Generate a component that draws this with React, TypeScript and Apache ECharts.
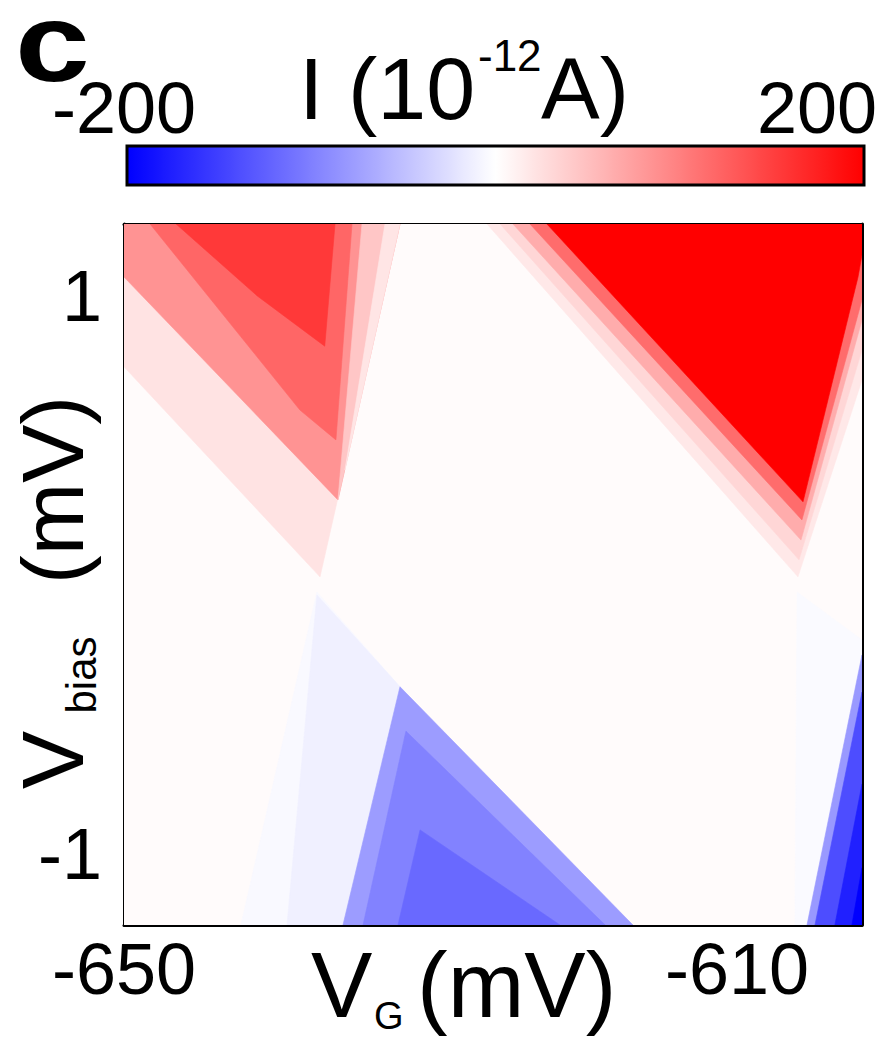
import React, { useEffect, useRef } from "react";
import * as echarts from "echarts";

const FONT = "'Liberation Sans', Arial, Helvetica, sans-serif";

// ---- axes (mV) ----
const vgRange = [-650, -601.84];
const vbRange = [-1.255, 1.258];
const vgMajorTicks = [-650, -610];
const vgMinorTicks = [-630];
const vbMajorTicks = [-1, 1];
const vbMinorTicks = [0];

// ---- colour scale (10^-12 A) ----
const currentRange = [-200, 200];
const currentTicks = [-200, 0, 200];
const currentBarAxis = [-203.4, 209.5];
const currentLabels = ["-200", "200"];

// ---- measured current regions (painted in order, later on top) ----
const regionNames = [
  "background",
  "left red cone", "left red excited", "left edge stripe 1", "left edge stripe 2", "left red core", "left red top",
  "right red cone", "right band 1", "right band 2", "right band 3", "right saturated",
  "left blue cone", "left blue strip", "blue triangle", "blue triangle mid", "blue triangle deep",
  "right blue strip", "right blue 1", "right blue 2", "right blue 3", "right blue 4",
];
const regionCurrent = [
  3,
  22, 85, 45, 20, 120, 155,
  18, 32, 65, 115, 200,
  -5, -12, -78, -98, -118,
  -4, -80, -140, -175, -200,
];
// vertices as [V_G (mV), V_bias (mV)]
const regionVertices: number[][][] = [
  [[-650, -1.255], [-601.84, -1.255], [-601.84, 1.258], [-650, 1.258]],
  [[-637.21, -0.007], [-631.99, 1.258], [-650, 1.258], [-650, 0.746]],
  [[-636.04, 0.269], [-631.99, 1.258], [-650, 1.258], [-650, 1.068]],
  [[-636.04, 0.269], [-631.99, 1.258], [-634.47, 1.258]],
  [[-635.58, 0.376], [-631.99, 1.258], [-632.97, 1.258]],
  [[-648.3, 1.258], [-635.12, 1.258], [-636.17, 0.484], [-638.52, 0.591]],
  [[-646.6, 1.258], [-636.23, 1.258], [-636.9, 0.82], [-641.3, 1.0]],
  [[-606.02, -0.007], [-601.84, 0.699], [-601.84, 1.258], [-626.31, 1.258]],
  [[-605.95, 0.054], [-601.84, 0.806], [-601.84, 1.258], [-625.46, 1.258]],
  [[-605.82, 0.125], [-601.84, 0.914], [-601.84, 1.258], [-624.62, 1.258]],
  [[-605.76, 0.197], [-601.84, 0.986], [-601.84, 1.258], [-623.51, 1.258]],
  [[-605.69, 0.262], [-602.1, 1.068], [-601.84, 1.147], [-601.84, 1.258], [-622.4, 1.258]],
  [[-637.41, -0.061], [-631.99, -0.401], [-616.79, -1.255], [-642.37, -1.255]],
  [[-637.41, -0.072], [-631.99, -0.401], [-635.71, -1.255], [-639.36, -1.255]],
  [[-631.99, -0.401], [-616.79, -1.255], [-635.71, -1.255]],
  [[-631.6, -0.56], [-618.6, -1.255], [-634.4, -1.255]],
  [[-630.68, -0.914], [-621.55, -1.255], [-632.12, -1.255]],
  [[-606.08, -0.061], [-601.84, -0.233], [-601.84, -0.305], [-605.43, -1.255], [-606.22, -1.255]],
  [[-605.43, -1.255], [-601.84, -1.255], [-601.84, -0.287]],
  [[-604.91, -1.255], [-601.84, -1.255], [-601.84, -0.42]],
  [[-603.61, -1.255], [-601.84, -1.255], [-601.84, -0.75]],
  [[-602.5, -1.255], [-601.84, -1.255], [-601.84, -1.05]],
];

const axisLineStyle = { color: "#000", width: 3 };

function xAxisDef(position: "top" | "bottom", ticks: number[], len: number, labels: number[] | null, showLine: boolean) {
  return {
    type: "value",
    gridIndex: 0,
    position,
    min: vgRange[0],
    max: vgRange[1],
    axisLine: { show: showLine, onZero: false, lineStyle: axisLineStyle },
    axisTick: { show: true, inside: true, length: len, customValues: ticks, lineStyle: { color: "#000", width: 3 } },
    axisLabel: labels
      ? { show: true, customValues: labels, fontSize: 72, color: "#000", fontFamily: FONT, margin: 8, formatter: (v: number) => String(v) }
      : { show: false },
    splitLine: { show: false },
  };
}

function yAxisDef(position: "left" | "right", ticks: number[], len: number, labels: number[] | null, showLine: boolean) {
  return {
    type: "value",
    gridIndex: 0,
    position,
    min: vbRange[0],
    max: vbRange[1],
    axisLine: { show: showLine, onZero: false, lineStyle: axisLineStyle },
    axisTick: { show: true, inside: true, length: len, customValues: ticks, lineStyle: { color: "#000", width: 3 } },
    axisLabel: labels
      ? { show: true, customValues: labels, fontSize: 72, color: "#000", fontFamily: FONT, margin: 22, formatter: (v: number) => String(v) }
      : { show: false },
    splitLine: { show: false },
  };
}

export default function App() {
  const ref = useRef<HTMLDivElement>(null);

  useEffect(() => {
    if (!ref.current) return;
    const chart = echarts.init(ref.current, null, { renderer: "svg" });

    const txt = (text: string, x: number, y: number, fontSize: number, extra: any = {}) => ({
      type: "text",
      x,
      y,
      z: 100,
      style: {
        text,
        fontSize,
        fontFamily: FONT,
        fill: "#000",
        align: "left",
        verticalAlign: "middle",
        ...(extra.style || {}),
      },
      ...(extra.el || {}),
    });

    const option: any = {
      animation: false,
      backgroundColor: "#fff",
      grid: [
        { left: 124, top: 224, width: 738, height: 701, show: false },
        { left: 127, top: 146, width: 737, height: 39, show: false },
      ],
      xAxis: [
        xAxisDef("bottom", vgMajorTicks, 20, vgMajorTicks, true),
        xAxisDef("bottom", vgMinorTicks, 8, null, false),
        xAxisDef("top", [-610], 22, null, true),
        xAxisDef("top", vgMinorTicks, 10, null, false),
        {
          type: "value",
          gridIndex: 1,
          position: "top",
          min: currentBarAxis[0],
          max: currentBarAxis[1],
          axisLine: { show: false },
          axisTick: { show: true, inside: false, length: 9, customValues: currentTicks, lineStyle: { color: "#000", width: 3 } },
          axisLabel: { show: false },
          splitLine: { show: false },
        },
      ],
      yAxis: [
        yAxisDef("left", vbMajorTicks, 20, vbMajorTicks, true),
        yAxisDef("left", vbMinorTicks, 8, null, false),
        yAxisDef("right", vbMajorTicks, 20, null, true),
        yAxisDef("right", vbMinorTicks, 8, null, false),
        {
          type: "value",
          gridIndex: 1,
          min: 0,
          max: 1,
          axisLine: { show: false },
          axisTick: { show: false },
          axisLabel: { show: false },
          splitLine: { show: false },
        },
      ],
      visualMap: {
        type: "continuous",
        min: currentRange[0],
        max: currentRange[1],
        dimension: 1,
        seriesIndex: 0,
        orient: "horizontal",
        left: 127,
        top: 146,
        itemWidth: 39,
        itemHeight: 737,
        padding: 0,
        calculable: false,
        hoverLink: false,
        text: null,
        inRange: { color: ["#0000ff", "#ffffff", "#ff0000"] },
      },
      series: [
        {
          type: "custom",
          xAxisIndex: 0,
          yAxisIndex: 0,
          clip: true,
          data: regionCurrent.map((v, i) => [i, v]),
          renderItem: (params: any, api: any) => {
            const idx = api.value(0);
            const pts = regionVertices[idx].map((p) => api.coord(p));
            const c = api.visual("color");
            return {
              type: "polygon",
              shape: { points: pts },
              style: { fill: c, stroke: c, lineWidth: 0.6 },
            };
          },
        },
      ],
      graphic: [
        {
          type: "rect",
          z: 100,
          shape: { x: 127, y: 146, width: 737, height: 39 },
          style: { fill: "none", stroke: "#000", lineWidth: 3 },
        },
        txt("c", 15, 42, 112, { style: { fontWeight: "bold", lineHeight: 70 }, el: { scaleX: 1.2 } }),
        txt(currentLabels[0], 124, 108, 72, { style: { align: "center" } }),
        txt(currentLabels[1], 817, 108, 72, { style: { align: "center" } }),
        txt("I (10", 299, 88, 88),
        txt("-12", 478, 55, 44),
        txt("A)", 541, 88, 88),
        txt("V", 311, 985, 92),
        txt("G", 374, 1016, 38),
        txt("(mV)", 417, 985, 92),
        txt("V", 52, 760, 87, { style: { align: "center" }, el: { rotation: Math.PI / 2 } }),
        txt("bias", 81, 675, 42, { style: { align: "center" }, el: { rotation: Math.PI / 2 } }),
        txt("(mV)", 52, 490, 87, { style: { align: "center" }, el: { rotation: Math.PI / 2 } }),
      ],
    };

    chart.setOption(option);
    return () => chart.dispose();
  }, []);

  return (
    <div
      ref={ref}
      style={{ position: "fixed", left: 0, top: 0, width: 890, height: 1038, background: "#fff" }}
    />
  );
}
